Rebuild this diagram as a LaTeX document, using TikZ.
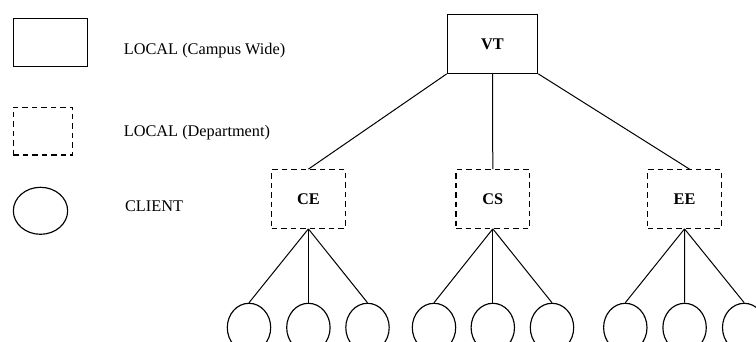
\documentclass[tikz,border=0pt]{standalone}
\usepackage{fontspec}
\setmainfont{Liberation Serif}
\usetikzlibrary{shapes.geometric,calc}
\begin{document}
\begin{tikzpicture}[x=1pt,y=-1pt,line width=1.15pt,
  campus/.style={draw,rectangle,inner sep=0pt,font=\fontsize{16.3}{18}\selectfont\bfseries},
  dept/.style={draw,rectangle,dash pattern=on 5.5pt off 4pt,inner sep=0pt,minimum width=73.5pt,minimum height=58.6pt,font=\fontsize{16.3}{18}\selectfont\bfseries},
  client/.style={draw,ellipse,inner sep=0pt,minimum width=43.4pt,minimum height=48.6pt},
  legtext/.style={anchor=base west,inner sep=0pt,font=\fontsize{16.3}{18}\selectfont},
  link/.style={line width=1pt}]
\useasboundingbox (0,0) rectangle (756,342);
% legend
\node[campus,minimum width=74.4pt,minimum height=48.4pt] (lcampus) at (50.5,42.5) {};
\node[legtext] (tcampus) at (123.3,55) {LOCAL (Campus Wide)};
\node[dept,minimum width=59.4pt,minimum height=47.7pt] (ldept) at (43,131.2) {};
\node[legtext] (tdept) at (123.3,136.7) {LOCAL (Department)};
\node[client,minimum width=54.3pt,minimum height=47pt] (lclient) at (40.5,210.8) {};
\node[legtext] (tclient) at (124.5,211.7) {CLIENT};
% tree
\node[campus,minimum width=90.4pt,minimum height=58.6pt] (vt) at (492.5,44) {VT};
\node[dept] (ce) at (308.4,199) {CE};
\node[dept] (cs) at (492.8,199) {CS};
\node[dept] (ee) at (684.5,199) {EE};
\draw[link] (vt.south west) -- (ce.north);
\draw[link] (vt.south) -- (cs.north);
\draw[link] (vt.south east) -- ($(ee.north)+(5,0)$);
\foreach \p/\xa/\xb/\xc in {ce/249/308.4/367.5, cs/434/492.8/552, ee/625.3/684.6/744.2}{
  \node[client] (\p1) at (\xa,327.6) {};
  \node[client] (\p2) at (\xb,327.6) {};
  \node[client] (\p3) at (\xc,327.6) {};
  \draw[link] (\p.south) -- (\p1.north);
  \draw[link] (\p.south) -- (\p2.north);
  \draw[link] (\p.south) -- (\p3.north);
}
\end{tikzpicture}
\end{document}
